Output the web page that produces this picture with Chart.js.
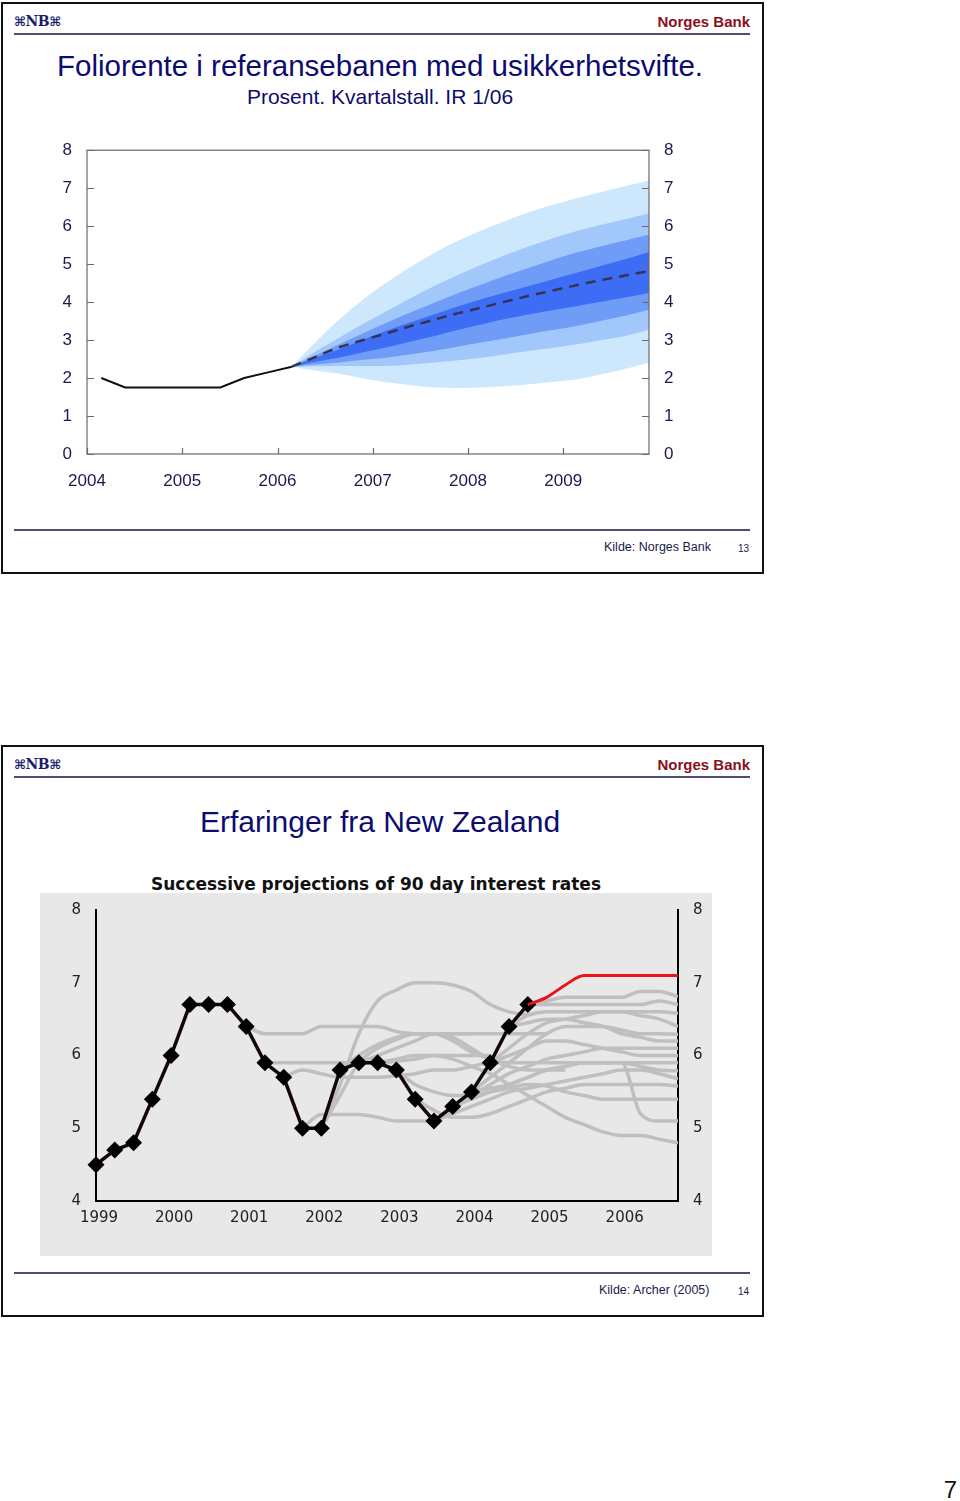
<!DOCTYPE html>
<html>
<head>
<meta charset="utf-8">
<script src="https://cdn.jsdelivr.net/npm/chart.js@4.4.1/dist/chart.umd.min.js"></script>
<style>
    body { margin: 0; background: #fff; width: 960px; height: 1501px; position: relative; overflow: hidden; font-family: "Liberation Sans", Arial, sans-serif; }
    .frame { position: absolute; box-sizing: border-box; border: 2px solid #111; }
    .logo { position: absolute; left: 14px; color: #1c1c6a; font-family: "DejaVu Serif", serif; font-weight: bold; font-size: 14px; line-height: 16px; letter-spacing: -0.5px; }
    .logo .k { font-family: "DejaVu Sans"; font-weight: bold; font-size: 13px; }
    .nb { position: absolute; right: 210px; color: #8a1020; font-weight: bold; font-size: 15px; line-height: 16px; }
    .rule { position: absolute; left: 14px; width: 736px; height: 2px; background: #4e4e72; }
    .title { position: absolute; left: 0; width: 760px; text-align: center; color: #0c0c70; white-space: nowrap; }
    .src { position: absolute; color: #1a1a4a; font-size: 12.5px; line-height: 16px; }
    .pg { position: absolute; left: 738px; color: #1a1a4a; font-size: 10px; line-height: 12px; }
    canvas { position: absolute; }
</style>
</head>
<body>

<!-- slide 13 -->
<div class="frame" style="left:1px; top:2px; width:763px; height:572px;"></div>
<div class="logo" style="top:13px;"><span class="k">⌘</span>NB<span class="k">⌘</span></div>
<div class="nb" style="top:14px;">Norges Bank</div>
<div class="rule" style="top:33px;"></div>
<div class="title" style="top:49px; font-size:29.5px; line-height:34px;">Foliorente i referansebanen med usikkerhetsvifte.</div>
<div class="title" style="top:85px; font-size:21px; line-height:24px;">Prosent. Kvartalstall. IR 1/06</div>
<canvas id="chart1" width="680" height="375" style="left:40px; top:125px;"></canvas>
<div class="rule" style="top:529px; height:1.5px;"></div>
<div class="src" style="left:604px; top:539px;">Kilde: Norges Bank</div>
<div class="pg" style="top:543px;">13</div>

<!-- slide 14 -->
<div class="frame" style="left:1px; top:745px; width:763px; height:572px;"></div>
<div class="logo" style="top:756px;"><span class="k">⌘</span>NB<span class="k">⌘</span></div>
<div class="nb" style="top:757px;">Norges Bank</div>
<div class="rule" style="top:776px;"></div>
<div class="title" style="top:804px; font-size:30px; line-height:36px;">Erfaringer fra New Zealand</div>
<div class="title" style="top:874px; width:752px; font-family:'DejaVu Sans'; font-weight:bold; font-size:17px; line-height:20px; color:#111;">Successive projections of 90 day interest rates</div>
<canvas id="chart2" width="672" height="370" style="left:40px; top:886px;"></canvas>
<div class="rule" style="top:1272px; height:1.5px;"></div>
<div class="src" style="left:599px; top:1282px;">Kilde: Archer (2005)</div>
<div class="pg" style="top:1286px;">14</div>

<div style="position:absolute; right:3px; top:1476px; font-size:24px; line-height:28px; color:#111;">7</div>

<script>
// ---------- chart 1: foliorente med vifte ----------
const years1 = [2004, 2005, 2006, 2007, 2008, 2009];
const yTicks1 = [0, 1, 2, 3, 4, 5, 6, 7, 8];

const histQuarters = ['2004Q1', '2004Q2', '2004Q3', '2004Q4', '2005Q1', '2005Q2', '2005Q3', '2005Q4', '2006Q1'];
const histRate = [2.0, 1.75, 1.75, 1.75, 1.75, 1.75, 2.0, 2.15, 2.3];

const fanQuarters = ['2006Q1', '2006Q2', '2006Q3', '2006Q4', '2007Q1', '2007Q2', '2007Q3', '2007Q4',
                     '2008Q1', '2008Q2', '2008Q3', '2008Q4', '2009Q1', '2009Q2', '2009Q3', '2009Q4'];
const fanMedian = [2.3, 2.56, 2.81, 3.0, 3.18, 3.37, 3.54, 3.71, 3.86, 4.02, 4.17, 4.31, 4.45, 4.58, 4.7, 4.82];
const band30Hi = [2.3, 2.54, 2.76, 3.01, 3.25, 3.47, 3.68, 3.89, 4.08, 4.26, 4.43, 4.61, 4.78, 4.96, 5.13, 5.32];
const band30Lo = [2.3, 2.43, 2.54, 2.68, 2.81, 2.96, 3.11, 3.27, 3.42, 3.56, 3.68, 3.79, 3.9, 4.01, 4.12, 4.24];
const band50Hi = [2.3, 2.6, 2.89, 3.18, 3.46, 3.73, 3.99, 4.24, 4.47, 4.7, 4.91, 5.12, 5.31, 5.47, 5.62, 5.78];
const band50Lo = [2.3, 2.36, 2.41, 2.48, 2.54, 2.63, 2.72, 2.83, 2.94, 3.05, 3.16, 3.27, 3.38, 3.51, 3.64, 3.8];
const band70Hi = [2.3, 2.7, 3.07, 3.43, 3.77, 4.11, 4.43, 4.72, 5.0, 5.25, 5.48, 5.69, 5.88, 6.04, 6.18, 6.33];
const band70Lo = [2.3, 2.31, 2.32, 2.32, 2.32, 2.36, 2.41, 2.47, 2.54, 2.63, 2.72, 2.8, 2.89, 3.0, 3.11, 3.27];
const band90Hi = [2.3, 2.95, 3.55, 4.07, 4.52, 4.93, 5.3, 5.62, 5.9, 6.15, 6.38, 6.57, 6.74, 6.9, 7.05, 7.2];
const band90Lo = [2.3, 2.2, 2.11, 1.99, 1.89, 1.81, 1.75, 1.74, 1.75, 1.79, 1.84, 1.9, 1.97, 2.1, 2.24, 2.4];

// quarterly observations sit a bit into each year on the year axis
function quarterX(q) {
    return parseInt(q.slice(0, 4)) + (parseInt(q.slice(5)) - 1) / 4 + 0.15;
}

function pts(quarters, values) {
    return values.map((v, i) => ({ x: quarterX(quarters[i]), y: v }));
}

function band(values, color, fillTo) {
    return {
        data: pts(fanQuarters, values),
        borderWidth: 0,
        pointRadius: 0,
        cubicInterpolationMode: 'monotone',
        backgroundColor: color,
        fill: fillTo,
        order: 1
    };
}

// box frame and inward tick marks
const frame1 = {
    id: 'frame1',
    afterDatasetsDraw(chart) {
        const { ctx, chartArea: a, scales } = chart;
        ctx.save();
        ctx.strokeStyle = '#6a6a6a';
        ctx.lineWidth = 1.2;
        ctx.strokeRect(a.left, a.top, a.right - a.left, a.bottom - a.top);
        ctx.beginPath();
        for (let v of yTicks1) {
            const y = Math.round(scales.y.getPixelForValue(v)) + 0.5;
            ctx.moveTo(a.left, y); ctx.lineTo(a.left + 7, y);
            ctx.moveTo(a.right, y); ctx.lineTo(a.right - 7, y);
        }
        for (let v of years1) {
            const x = Math.round(scales.x.getPixelForValue(v)) + 0.5;
            ctx.moveTo(x, a.bottom); ctx.lineTo(x, a.bottom - 6);
        }
        ctx.stroke();
        ctx.restore();
    }
};

const tickFont1 = { family: 'Liberation Sans', size: 17 };
const tickColor1 = '#1a1a4e';

function yAxis1(pos, width) {
    return {
        position: pos,
        min: 0,
        max: 8,
        grid: { display: false, drawTicks: false },
        border: { display: false },
        afterBuildTicks: (scale) => { scale.ticks = yTicks1.map(v => ({ value: v })); },
        afterFit: (scale) => { scale.width = width; },
        ticks: { font: tickFont1, color: tickColor1, padding: 15 }
    };
}

new Chart(document.getElementById('chart1'), {
    type: 'line',
    data: {
        datasets: [
            { data: pts(histQuarters, histRate), borderColor: '#111', borderWidth: 2, pointRadius: 0, fill: false, order: 0 },
            { data: pts(fanQuarters, fanMedian), borderColor: '#34344e', borderWidth: 2.5, borderDash: [10, 7], pointRadius: 0,
              cubicInterpolationMode: 'monotone', fill: false, order: 0 },
            band(band30Hi, '#3d6cf5', 3),
            band(band30Lo, 'transparent', false),
            band(band50Hi, '#6e9cf7', 5),
            band(band50Lo, 'transparent', false),
            band(band70Hi, '#a2c8fb', 7),
            band(band70Lo, 'transparent', false),
            band(band90Hi, '#cde8fd', 9),
            band(band90Lo, 'transparent', false)
        ]
    },
    options: {
        responsive: false,
        animation: false,
        layout: { padding: 0 },
        plugins: { legend: { display: false }, tooltip: { enabled: false } },
        scales: {
            x: {
                type: 'linear',
                min: 2004,
                max: 2009.9,
                grid: { display: false, drawTicks: false },
                border: { display: false },
                afterBuildTicks: (scale) => { scale.ticks = years1.map(v => ({ value: v })); },
                afterFit: (scale) => { scale.height = 46; },
                ticks: { font: tickFont1, color: tickColor1, padding: 17, maxRotation: 0, callback: (v) => String(v) }
            },
            y: yAxis1('left', 47),
            y2: yAxis1('right', 71)
        }
    },
    plugins: [frame1]
});

// ---------- chart 2: successive projections, NZ ----------
const years2 = ['1999', '2000', '2001', '2002', '2003', '2004', '2005', '2006'];
const yTicks2 = [4, 5, 6, 7, 8];

// quarterly 90 day rate, 1999Q1 - 2004Q4
const actualRate = [4.5, 4.7, 4.8, 5.4, 6.0, 6.7, 6.7, 6.7, 6.4, 5.9, 5.7, 5.0,
                    5.0, 5.8, 5.9, 5.9, 5.8, 5.4, 5.1, 5.3, 5.5, 5.9, 6.4, 6.7];
// latest projection, from 2004Q4
const latestStart = 23;
const latestProj = [6.7, 6.8, 6.97, 7.1, 7.1, 7.1, 7.1, 7.1, 7.1];

// earlier projections: first quarter index and path
const projStarts = [8, 9, 10, 11, 12, 12, 13, 14, 15, 16, 17, 18, 19, 20, 21, 18, 22, 20, 21, 22, 23, 23];
const projPaths = [
    [6.4, 6.3, 6.3, 6.3, 6.4, 6.4, 6.4, 6.4, 6.33, 6.3, 6.3, 6.3, 6.3],
    [5.9, 5.9, 5.9, 5.9, 5.9, 5.9, 5.9, 5.92, 5.95, 6.0, 6.0, 6.0, 6.0],
    [5.7, 5.8, 5.75, 5.7, 5.7, 5.7, 5.72, 5.75, 5.8, 5.8, 5.85, 5.9, 5.9],
    [5.0, 5.19, 5.19, 5.19, 5.15, 5.1, 5.1, 5.1],
    [5.0, 5.6, 6.3, 6.75, 6.9, 7.0, 7.0, 6.97, 6.88, 6.7, 6.6, 6.56],
    [5.0, 5.45, 5.9, 6.1, 6.22, 6.3, 6.3, 6.3, 6.3, 6.3, 6.3, 6.3, 6.3],
    [5.8, 6.0, 6.15, 6.25, 6.3, 6.3, 6.2, 6.05, 5.95, 5.85, 5.8, 5.8, 5.8],
    [5.9, 6.0, 6.1, 6.2, 6.3, 6.25, 6.1, 5.95, 5.9, 5.9, 5.9, 5.9, 5.9, 5.9, 5.9, 5.2, 5.1, 5.1],
    [5.9, 5.95, 6.0, 6.0, 5.95, 5.85, 5.75, 5.6, 5.45, 5.3, 5.15, 5.05, 4.95, 4.9, 4.9, 4.85, 4.8],
    [5.8, 5.6, 5.5, 5.45, 5.45, 5.5, 5.55, 5.6, 5.58, 5.5, 5.45, 5.4, 5.4, 5.4, 5.4, 5.4],
    [5.4, 5.25, 5.15, 5.15, 5.2, 5.3, 5.4, 5.5, 5.55, 5.6, 5.6, 5.6, 5.6, 5.6, 5.58],
    [5.1, 5.2, 5.3, 5.4, 5.5, 5.55, 5.6, 5.65, 5.7, 5.75, 5.8, 5.8, 5.75, 5.68],
    [5.3, 5.4, 5.5, 5.6, 5.7, 5.8, 5.85, 5.9, 5.9, 5.9, 5.85, 5.8, 5.79],
    [5.5, 5.55, 5.6, 5.7, 5.8, 5.85, 5.9, 5.9, 5.9, 5.9, 5.9, 5.9],
    [5.9, 6.0, 6.1, 6.2, 6.2, 6.15, 6.1, 6.05, 6.0, 6.0, 6.0],
    [5.1, 5.25, 5.45, 5.6, 5.75, 5.85, 5.95, 6.0, 6.05, 6.1, 6.1, 6.1, 6.1, 6.1],
    [6.4, 6.45, 6.5, 6.5, 6.45, 6.4, 6.3, 6.25, 6.2, 6.2],
    [5.5, 5.7, 5.9, 6.1, 6.3, 6.4, 6.4, 6.4, 6.35, 6.3, 6.3, 6.29],
    [5.9, 6.1, 6.3, 6.45, 6.5, 6.55, 6.6, 6.6, 6.55, 6.5, 6.4],
    [6.4, 6.55, 6.6, 6.6, 6.6, 6.6, 6.6, 6.6, 6.6, 6.58],
    [6.7, 6.7, 6.7, 6.7, 6.7, 6.7, 6.7, 6.75, 6.7],
    [6.7, 6.75, 6.8, 6.8, 6.8, 6.8, 6.88, 6.88, 6.81]
];

function pathPts(start, values) {
    return values.map((v, k) => ({ x: start + k, y: v }));
}

const greyLines = projPaths.map((path, n) => ({
    data: pathPts(projStarts[n], path),
    borderColor: '#bfbfbf',
    borderWidth: 3.5,
    pointRadius: 0,
    cubicInterpolationMode: 'monotone',
    fill: false,
    order: 3
}));

// grey panel starts a few px below the canvas top, under the title
const panelBg = {
    id: 'panelBg',
    beforeDraw(chart) {
        const ctx = chart.ctx;
        ctx.save();
        ctx.fillStyle = '#e8e8e8';
        ctx.fillRect(0, 7, chart.width, chart.height - 7);
        ctx.restore();
    }
};

const tickFont2 = { family: 'DejaVu Sans', size: 15 };

function yAxis2(pos, width) {
    return {
        position: pos,
        min: 4,
        max: 8,
        grid: { display: false, drawTicks: false },
        border: { display: true, color: '#000', width: 2 },
        afterBuildTicks: (scale) => { scale.ticks = yTicks2.map(v => ({ value: v })); },
        afterFit: (scale) => { scale.width = width; },
        ticks: { font: tickFont2, color: '#222', padding: 15 }
    };
}

new Chart(document.getElementById('chart2'), {
    type: 'line',
    data: {
        datasets: [
            { data: pathPts(latestStart, latestProj), borderColor: '#e8141a', borderWidth: 3, pointRadius: 0,
              cubicInterpolationMode: 'monotone', fill: false, order: 1 },
            { data: pathPts(0, actualRate), borderColor: '#140606', borderWidth: 3.5, pointStyle: 'rectRot',
              pointRadius: 8.5, pointBackgroundColor: '#000', pointBorderColor: '#000', pointBorderWidth: 0,
              fill: false, clip: false, order: 2 },
            ...greyLines
        ]
    },
    options: {
        responsive: false,
        animation: false,
        layout: { padding: 0 },
        plugins: { legend: { display: false }, tooltip: { enabled: false } },
        scales: {
            x: {
                type: 'linear',
                min: 0,
                max: 31,
                grid: { display: false, drawTicks: false },
                border: { display: true, color: '#000', width: 2 },
                afterBuildTicks: (scale) => { scale.ticks = years2.map((y, i) => ({ value: i * 4 })); },
                afterFit: (scale) => { scale.height = 55; },
                ticks: { font: tickFont2, color: '#222', padding: 8, labelOffset: 3, maxRotation: 0,
                         callback: (v) => years2[v / 4] }
            },
            y: yAxis2('left', 56),
            y2: yAxis2('right', 34)
        }
    },
    plugins: [panelBg]
});
</script>
</body>
</html>
